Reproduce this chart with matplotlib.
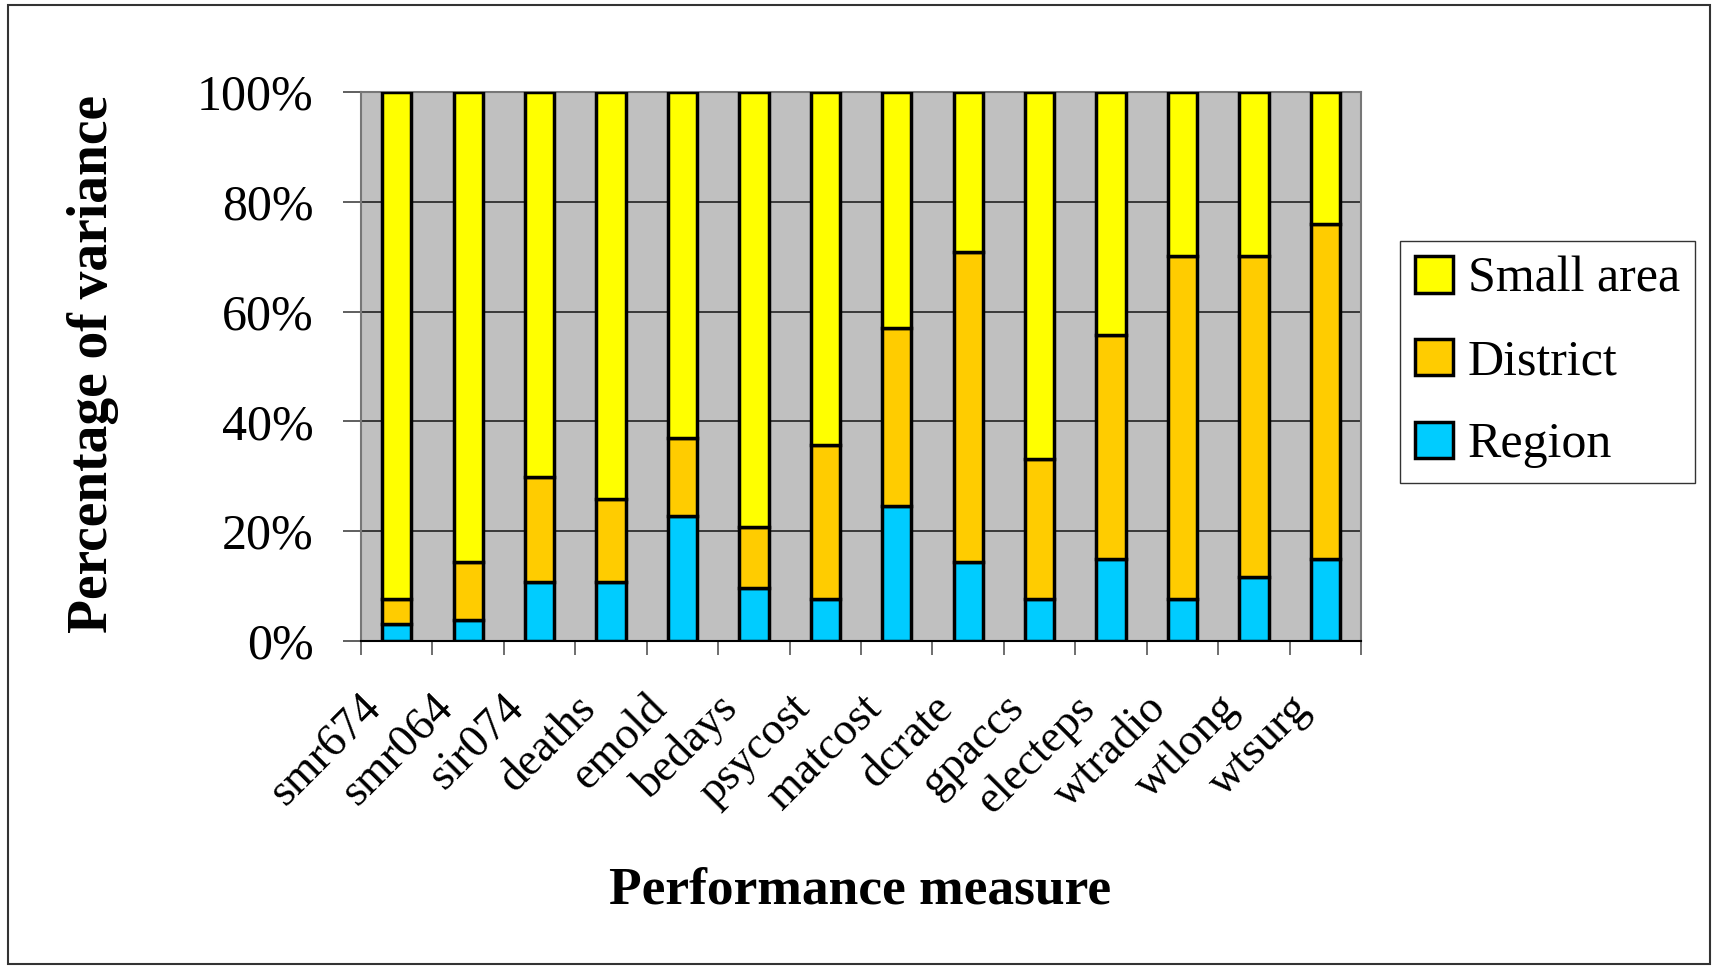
import numpy as np
import matplotlib.pyplot as plt
import matplotlib.transforms as mtransforms
from matplotlib.patches import Rectangle

# data (percent of variance)
measures = ['smr674', 'smr064', 'sir074', 'deaths', 'emold', 'bedays', 'psycost',
            'matcost', 'dcrate', 'gpaccs', 'electeps', 'wtradio', 'wtlong', 'wtsurg']
region = [3.1, 3.8, 10.8, 10.8, 22.7, 9.6, 7.6, 24.5, 14.3, 7.6, 15.0, 7.6, 11.7, 15.0]
district_top = [7.7, 14.3, 29.8, 25.9, 36.9, 20.7, 35.7, 57.1, 70.8, 33.1, 55.8, 70.1, 70.1, 76.0]
district = [d - r for d, r in zip(district_top, region)]
small_area = [100 - d for d in district_top]

plt.rcParams['font.family'] = ['Liberation Serif', 'DejaVu Serif']

W, H = 1717, 969
fig = plt.figure(figsize=(W / 100, H / 100), dpi=100)
ax = fig.add_axes([361 / W, 1 - 641 / H, (1361 - 361) / W, (641 - 92) / H])

x = np.arange(len(measures))
w = 0.41
kw = dict(width=w, edgecolor='black', linewidth=2.5, zorder=3)
ax.bar(x, region, color='#00CCFF', label='Region', **kw)
ax.bar(x, district, bottom=region, color='#FFCC00', label='District', **kw)
ax.bar(x, small_area, bottom=district_top, color='#FFFF00', label='Small area', **kw)

ax.set_facecolor('#C0C0C0')
ax.set_xlim(-0.5, len(measures) - 0.5)
ax.set_ylim(0, 100)
ax.set_yticks(np.arange(0, 101, 20))
ax.set_yticklabels([f'{v}%' for v in range(0, 101, 20)], fontsize=36)
ax.yaxis.grid(True, color='#222222', linewidth=1.2, zorder=0)
ax.set_axisbelow(True)

# ticks between categories; rotated names drawn under each bar
ax.set_xticks(np.arange(-0.5, len(measures)))
ax.set_xticklabels([])
ax.tick_params(axis='x', length=10, width=1.2, color='#555555')
ax.tick_params(axis='y', length=13, width=1.2, color='#444444', pad=21)
shift = mtransforms.ScaledTranslation(-0.37, -0.46, fig.dpi_scale_trans)
for xi, name in zip(x, measures):
    ax.text(xi, 0, name, transform=ax.get_xaxis_transform() + shift,
            rotation=45, rotation_mode='anchor', ha='right', va='top', fontsize=33)

for s in ax.spines.values():
    s.set_color('#777777')
    s.set_linewidth(1.5)
ax.spines['bottom'].set_color('black')

fig.text(93 / W, 1 - 364 / H, 'Percentage of variance', fontsize=40,
         fontweight='bold', rotation=90, ha='center', va='center')
fig.text(860 / W, 1 - 890 / H, 'Performance measure', fontsize=38.5,
         fontweight='bold', ha='center', va='center')

handles, labels = ax.get_legend_handles_labels()
leg = fig.legend(handles[::-1], labels[::-1], loc='upper left',
                 bbox_to_anchor=(1400 / W, 1 - 241 / H), fontsize=36,
                 frameon=True, fancybox=False, edgecolor='black',
                 borderaxespad=0, handlelength=0.75, handleheight=0.75,
                 handletextpad=0.3, labelspacing=0.72, borderpad=0.3)
leg.get_frame().set_linewidth(1.0)

# outer chart border
fig.patches.append(Rectangle((8 / W, 5 / H), 1702 / W, 959 / H,
                             transform=fig.transFigure, fill=False,
                             edgecolor='#333333', linewidth=1.5))

fig.savefig('out.png', dpi=100)
